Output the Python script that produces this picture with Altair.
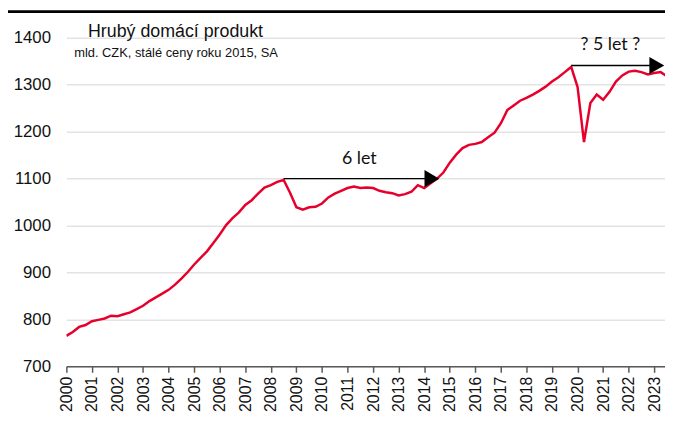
import altair as alt
import pandas as pd

# Quarterly GDP, bn CZK, constant 2015 prices, SA (2000Q1 .. 2023Q3)
years = [2000 + i / 4 for i in range(95)]
gdp = [
    765, 773, 784, 788,  796, 799, 802, 808,  807, 811, 815, 822,
    829, 839, 847, 855,  863, 874, 887, 901,  917, 931, 945, 963,
    981, 1001, 1016, 1028,  1044, 1054, 1068, 1081,  1086, 1093, 1097, 1070,
    1039, 1034, 1039, 1040,  1047, 1060, 1068, 1074,  1080, 1083, 1080, 1081,
    1080, 1074, 1071, 1069,  1064, 1067, 1072, 1086,  1080, 1090, 1100, 1113,
    1134, 1151, 1165, 1172,  1174, 1178, 1188, 1198,  1218, 1246, 1256, 1266,
    1272, 1279, 1287, 1296,  1307, 1316, 1327, 1338,  1295, 1178, 1261, 1279,
    1268, 1285, 1307, 1320,  1328, 1330, 1327, 1322,  1325, 1327, 1318,
]
tick_years = list(range(2000, 2024))
y_ticks = [700, 800, 900, 1000, 1100, 1200, 1300, 1400]

# annotation arrows: start, end, level
arrow_x = [2008.5, 2019.75]
arrow_x2 = [2014.3, 2023.1]
arrow_y = [1100, 1341]
head_x = [2014.3, 2023.1]
head_y = [1100, 1341]

title_text = ["Hrubý domácí produkt", "mld. CZK, stálé ceny roku 2015, SA"]
title_x = [2004.27, 2004.29]
title_y = [1412, 1367]
title_size = [18, 13]

label_text = ["6 let", "? 5 let ?"]
label_x = [2011.46, 2021.28]
label_y = [1141, 1385]

df = pd.DataFrame({"t": years, "v": gdp})
arr = pd.DataFrame({"x": arrow_x, "x2": arrow_x2, "y": arrow_y})
heads = pd.DataFrame({"x": head_x, "y": head_y})
titles = pd.DataFrame({"text": title_text, "x": title_x, "y": title_y, "size": title_size})
labels = pd.DataFrame({"text": label_text, "x": label_x, "y": label_y})
one = pd.DataFrame({"k": [0]})

xscale = alt.Scale(domain=[2000, 2023.42], nice=False, zero=False)
yscale = alt.Scale(domain=[700, 1400], nice=False, zero=False)

xaxis = alt.Axis(values=tick_years, format="d", labelAngle=-90, labelAlign="right",
                 labelBaseline="middle", labelFontSize=16, labelFont="Liberation Sans",
                 labelColor="#111", labelPadding=4, tickSize=6, tickColor="#595959",
                 tickWidth=1.5, domainColor="#595959", domainWidth=1.5, grid=False,
                 labelOverlap=False, labelFlush=False, labelBound=False)
yaxis = alt.Axis(values=y_ticks, format="d", labelFontSize=17,
                 labelFont="Liberation Sans", labelColor="#111", labelPadding=16,
                 ticks=False, domain=False, gridColor="#e3e3e3", gridWidth=1.5,
                 labelOverlap=False)


def X(field):
    return alt.X(field, type="quantitative", scale=xscale, title=None, axis=xaxis)


def Y(field):
    return alt.Y(field, type="quantitative", scale=yscale, title=None, axis=yaxis)


line = alt.Chart(df).mark_line(color="#e8002d", strokeWidth=2.5, clip=True).encode(
    x=X("t"), y=Y("v"),
)

rules = alt.Chart(arr).mark_rule(color="black", strokeWidth=1.5).encode(
    x=X("x"), x2="x2:Q", y=Y("y")
)

tri = alt.Chart(heads).mark_point(shape="triangle-right", filled=True, color="black",
                                  size=300, opacity=1).encode(
    x=X("x"), y=Y("y")
)

title_marks = alt.Chart(titles).mark_text(color="#111", align="center", baseline="middle",
                                          font="Liberation Sans").encode(
    x=X("x"), y=Y("y"), text="text:N",
    size=alt.Size("size:Q", scale=None, legend=None),
)

label_marks = alt.Chart(labels).mark_text(color="#111", align="center", baseline="middle",
                                          font="Lato", fontSize=18).encode(
    x=X("x"), y=Y("y"), text="text:N",
)

top_bar = alt.Chart(one).mark_rect(color="black").encode(
    x=alt.value(-59), x2=alt.value(606), y=alt.value(-28), y2=alt.value(-25)
)

chart = alt.layer(line, rules, tri, title_marks, label_marks, top_bar).properties(
    width=605, height=332,
    padding={"left": 59, "top": 28, "right": 0, "bottom": 45},
    autosize=alt.AutoSizeParams(type="none"),
).configure_view(stroke=None)

chart.save("out.html", embed_options={"renderer": "svg", "actions": False})
